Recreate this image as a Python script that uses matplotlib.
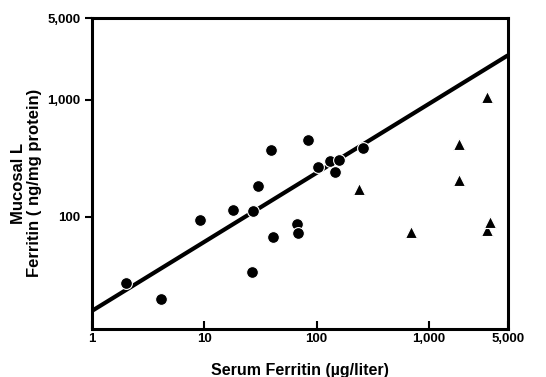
import numpy as np
from matplotlib import pyplot as plt
from matplotlib.ticker import FixedLocator, FixedFormatter, NullLocator

# circles
circ_x = [2.0, 4.1, 9.1, 17.9, 27, 26.5, 30, 39, 40.5, 67, 68, 84, 103, 132, 145, 157, 259]
circ_y = [27.3, 20, 94, 115, 112, 34, 184, 374, 68, 87, 73, 455, 267, 301, 243, 307, 389]
# triangles
tri_x = [240, 690, 1830, 1830, 3300, 3300, 3500]
tri_y = [174, 74, 420, 207, 1060, 77, 91]
# regression line endpoints
fit_x = [1, 5000]
fit_y = [15.7, 2400]

xticks = [1, 10, 100, 1000, 5000]
xticklabels = ['1', '10', '100', '1,000', '5,000']
yticks = [100, 1000, 5000]
yticklabels = ['100', '1,000', '5,000']

plt.rcParams['font.family'] = ['Liberation Sans', 'DejaVu Sans']
plt.rcParams['font.weight'] = 'bold'

fig = plt.figure(figsize=(5.46, 3.77), dpi=100)
ax = fig.add_axes([0.168, 0.127, 0.762, 0.825])

b = np.log10(fit_y[1] / fit_y[0]) / np.log10(fit_x[1] / fit_x[0])
xx = np.logspace(np.log10(fit_x[0]), np.log10(fit_x[1]), 50)
ax.plot(xx, fit_y[0] * (xx / fit_x[0]) ** b, color='black', lw=3, solid_capstyle='butt')

ax.plot(circ_x, circ_y, 'o', color='black', ms=8.5, mec='white', mew=0.8)
ax.plot(tri_x, tri_y, '^', color='black', ms=8.5, mec='white', mew=0.8)

ax.set_xscale('log')
ax.set_yscale('log')
ax.set_xlim(1, 5000)
ax.set_ylim(11, 5000)
ax.xaxis.set_major_locator(FixedLocator(xticks))
ax.xaxis.set_major_formatter(FixedFormatter(xticklabels))
ax.yaxis.set_major_locator(FixedLocator(yticks))
ax.yaxis.set_major_formatter(FixedFormatter(yticklabels))
ax.xaxis.set_minor_locator(NullLocator())
ax.yaxis.set_minor_locator(NullLocator())

for s in ax.spines.values():
    s.set_linewidth(2.2)
ax.tick_params(axis='x', direction='in', length=6, width=1.5, labelsize=9.5, pad=3)
ax.tick_params(axis='y', direction='out', length=5, width=1.5, labelsize=9.5, pad=3)
for lab in ax.get_xticklabels() + ax.get_yticklabels():
    lab.set_fontweight('bold')

ax.set_xlabel('Serum Ferritin (\u00b5g/liter)', fontsize=11.5, fontweight='bold')
ax.xaxis.set_label_coords(0.5, -0.11)
ax.set_ylabel('Mucosal L\nFerritin ( ng/mg protein)', fontsize=12, fontweight='bold',
              linespacing=1.1)
ax.yaxis.set_label_coords(-0.12, 0.47)

fig.savefig('out.png', dpi=100)
